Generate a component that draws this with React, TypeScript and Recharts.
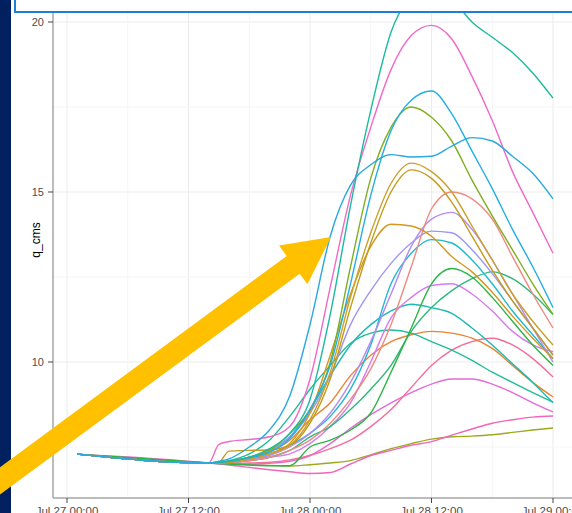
import { LineChart, Line, XAxis, YAxis, CartesianGrid, ReferenceLine } from "recharts";

// hours since Jul 27 00:00
const hours = [1, 14, 15, 16, 18, 20, 22, 24, 26, 28, 30, 32, 34, 36, 38, 40, 42, 44, 46, 48];

const tickHours = [0, 12, 24, 36, 48];
const tickLabels = ["Jul 27 00:00", "Jul 27 12:00", "Jul 28 00:00", "Jul 28 12:00", "Jul 29 00:00"];
const yTicks = [10, 15, 20];
const minorX = [6, 18, 30, 42];
const minorY = [7.5, 12.5, 17.5];

const m01 = [7.29, 7.03, 7.08, 7.15, 7.5, 8.0, 9.0, 11.1, 13.7, 15.2, 15.8, 16.1, 16.03, 16.05, 16.35, 16.6, 16.5, 16.05, 15.55, 14.8];
const m02 = [7.29, 7.03, 7.05, 7.08, 7.2, 7.45, 7.9, 8.9, 11.4, 14.6, 17.4, 19.7, 20.8, 21.2, 20.7, 20.0, 19.55, 19.1, 18.5, 17.76];
const m03 = [7.29, 7.03, 7.58, 7.66, 7.72, 7.8, 8.1, 9.5, 12.2, 14.9, 16.9, 18.6, 19.6, 19.9, 19.5, 18.4, 17.1, 15.6, 14.4, 13.2];
const m04 = [7.29, 7.03, 7.05, 7.08, 7.18, 7.35, 7.75, 8.6, 9.9, 12.3, 14.9, 16.8, 17.7, 17.97, 17.3, 16.2, 15.1, 13.9, 12.8, 11.6];
const m05 = [7.29, 7.03, 7.04, 7.07, 7.2, 7.4, 7.9, 8.6, 10.0, 12.8, 15.4, 16.9, 17.5, 17.2, 16.5, 15.35, 14.3, 13.3, 12.3, 11.4];
const m06 = [7.29, 7.03, 7.04, 7.06, 7.15, 7.3, 7.55, 8.3, 9.7, 11.9, 13.8, 15.25, 15.85, 15.6, 15.0, 14.0, 13.0, 12.0, 11.2, 10.5];
const m07 = [7.29, 7.03, 7.05, 7.38, 7.4, 7.42, 7.55, 8.2, 9.5, 11.6, 13.5, 15.0, 15.65, 15.4, 14.7, 13.7, 12.7, 11.8, 11.0, 10.2];
const m08 = [7.29, 7.03, 7.03, 7.05, 7.15, 7.3, 7.6, 8.5, 10.2, 12.0, 13.4, 14.05, 14.0, 13.7, 13.1, 12.65, 12.05, 11.35, 10.7, 10.1];
const m09 = [7.29, 7.03, 7.03, 7.04, 7.1, 7.2, 7.4, 7.7, 8.2, 8.9, 9.8, 11.1, 12.8, 14.5, 15.0, 14.8, 14.2, 13.1, 12.0, 11.0];
const m10 = [7.29, 7.03, 7.03, 7.05, 7.12, 7.25, 7.5, 7.9, 8.5, 9.4, 10.6, 12.0, 13.4, 14.2, 14.4, 13.9, 13.0, 12.0, 11.0, 10.0];
const m11 = [7.29, 7.03, 7.04, 7.08, 7.2, 7.4, 7.8, 8.5, 9.6, 11.1, 12.1, 12.9, 13.5, 13.85, 13.8, 13.3, 12.6, 11.8, 11.0, 10.2];
const m12 = [7.29, 7.03, 7.04, 7.06, 7.15, 7.3, 7.55, 7.9, 8.4, 9.2, 10.5, 12.3, 13.2, 13.6, 13.5, 13.0, 12.3, 11.5, 10.8, 10.1];
const m13 = [7.29, 7.03, 7.01, 7.0, 6.97, 6.95, 6.95, 7.5, 7.7, 8.0, 8.5, 9.7, 11.0, 12.3, 12.75, 12.5, 11.9, 11.2, 10.5, 9.9];
const m14 = [7.29, 7.03, 7.03, 7.04, 7.1, 7.2, 7.4, 7.8, 8.1, 8.6, 9.2, 9.9, 10.9, 11.6, 12.1, 12.45, 12.65, 12.45, 12.0, 11.4];
const m15 = [7.29, 7.03, 7.03, 7.04, 7.1, 7.2, 7.3, 7.6, 8.1, 8.8, 10.0, 11.3, 11.9, 12.25, 12.3, 12.0, 11.5, 10.9, 10.5, 10.3];
const m16 = [7.29, 7.03, 7.04, 7.08, 7.2, 7.4, 7.8, 8.6, 9.6, 10.5, 11.1, 11.5, 11.7, 11.6, 11.43, 11.0, 10.5, 9.95, 9.4, 8.8];
const m17 = [7.29, 7.03, 7.05, 7.1, 7.3, 7.7, 8.4, 9.2, 9.9, 10.55, 10.85, 10.94, 10.85, 10.6, 10.35, 10.05, 9.7, 9.4, 9.1, 8.82];
const m18 = [7.29, 7.03, 7.03, 7.05, 7.15, 7.35, 7.7, 8.3, 8.8, 9.6, 10.2, 10.6, 10.8, 10.9, 10.85, 10.7, 10.4, 9.9, 9.4, 8.97];
const m19 = [7.29, 7.03, 7.02, 7.02, 7.03, 7.05, 7.12, 7.25, 7.45, 7.7, 8.1, 8.6, 9.25, 9.9, 10.35, 10.6, 10.7, 10.5, 10.1, 9.56];
const m20 = [7.29, 7.03, 7.02, 7.0, 7.0, 7.02, 7.08, 7.25, 7.6, 8.05, 8.45, 8.8, 9.1, 9.35, 9.5, 9.5, 9.35, 9.1, 8.8, 8.53];
const m21 = [7.29, 7.03, 7.0, 6.97, 6.9, 6.83, 6.77, 6.72, 6.75, 7.0, 7.25, 7.4, 7.55, 7.66, 7.85, 8.03, 8.2, 8.3, 8.38, 8.41];
const m22 = [7.29, 7.03, 7.02, 7.0, 6.98, 6.96, 6.94, 6.98, 7.03, 7.1, 7.27, 7.45, 7.6, 7.73, 7.8, 7.82, 7.86, 7.93, 8.0, 8.06];

const series = [
  { key: "m22", color: "#9DAA1E", values: m22 },
  { key: "m21", color: "#F066B8", values: m21 },
  { key: "m20", color: "#E46BD6", values: m20 },
  { key: "m19", color: "#F36E98", values: m19 },
  { key: "m18", color: "#EA8331", values: m18 },
  { key: "m17", color: "#1FBC96", values: m17 },
  { key: "m16", color: "#1DBAB4", values: m16 },
  { key: "m15", color: "#D57CF0", values: m15 },
  { key: "m14", color: "#2DB87A", values: m14 },
  { key: "m13", color: "#2BB545", values: m13 },
  { key: "m12", color: "#1EB9D0", values: m12 },
  { key: "m11", color: "#9D96F5", values: m11 },
  { key: "m10", color: "#B58BF2", values: m10 },
  { key: "m09", color: "#EE8A80", values: m09 },
  { key: "m08", color: "#D3981F", values: m08 },
  { key: "m07", color: "#C49A1A", values: m07 },
  { key: "m06", color: "#C9A12A", values: m06 },
  { key: "m05", color: "#80AE1E", values: m05 },
  { key: "m04", color: "#22AEE6", values: m04 },
  { key: "m03", color: "#F068C8", values: m03 },
  { key: "m02", color: "#1DB9A0", values: m02 },
  { key: "m01", color: "#2AA8E0", values: m01 },
];

const rows = hours.map((h, i) => {
  const row: Record<string, number> = { h };
  series.forEach((s) => {
    row[s.key] = s.values[i];
  });
  return row;
});

const font = "'Liberation Sans', Arial, sans-serif";

export default function App() {
  return (
    <div style={{ position: "absolute", left: 0, top: 0, width: 572, height: 513, overflow: "hidden", background: "#fff" }}>
      <LineChart width={600} height={530} data={rows} margin={{ top: 0, right: 23, bottom: 0, left: 0 }}>
        {minorX.map((x) => (
          <ReferenceLine key={"mx" + x} x={x} stroke="#f5f5f5" strokeWidth={1} />
        ))}
        {minorY.map((y) => (
          <ReferenceLine key={"my" + y} y={y} stroke="#f5f5f5" strokeWidth={1} />
        ))}
        <CartesianGrid stroke="#ebebeb" />
        <XAxis
          dataKey="h"
          type="number"
          domain={[-1.383, 50.37]}
          allowDataOverflow
          ticks={tickHours}
          tickFormatter={(v: number) => tickLabels[tickHours.indexOf(v)]}
          height={32}
          tickSize={5}
          tickMargin={4}
          stroke="#a8a8a8"
          strokeWidth={1.5}
          tickLine={{ stroke: "#444", strokeWidth: 1 }}
          tick={{ fill: "#4d4d4d", fontSize: 11.5, fontFamily: font }}
        />
        <YAxis
          type="number"
          domain={[6, 20.647]}
          allowDataOverflow
          ticks={yTicks}
          width={53}
          tickSize={5}
          tickMargin={4}
          stroke="#a8a8a8"
          strokeWidth={1.5}
          tickLine={{ stroke: "#444", strokeWidth: 1 }}
          tick={{ fill: "#4d4d4d", fontSize: 11, fontFamily: font }}
        />
        {series.map((s) => (
          <Line
            key={s.key}
            type="monotone"
            dataKey={s.key}
            stroke={s.color}
            strokeWidth={1.4}
            dot={false}
            isAnimationActive={false}
          />
        ))}
      </LineChart>
      <svg width={572} height={513} style={{ position: "absolute", left: 0, top: 0, pointerEvents: "none" }}>
        <text
          x={36}
          y={240}
          transform="rotate(-90 36 240)"
          textAnchor="middle"
          dominantBaseline="central"
          fontFamily={font}
          fontSize={12}
          fill="#000"
        >
          q_cms
        </text>
        <rect x={15} y={-20} width={600} height={32} fill="#fff" stroke="#1f7fd6" strokeWidth={2} />
        <rect x={0} y={0} width={11} height={513} fill="#002060" />
        <polygon
          points="331,237 307.4,284.2 299.7,273.8 -38.4,522.9 -51.4,505.1 286.7,256 279,245.6"
          fill="#FFC000"
        />
      </svg>
    </div>
  );
}
